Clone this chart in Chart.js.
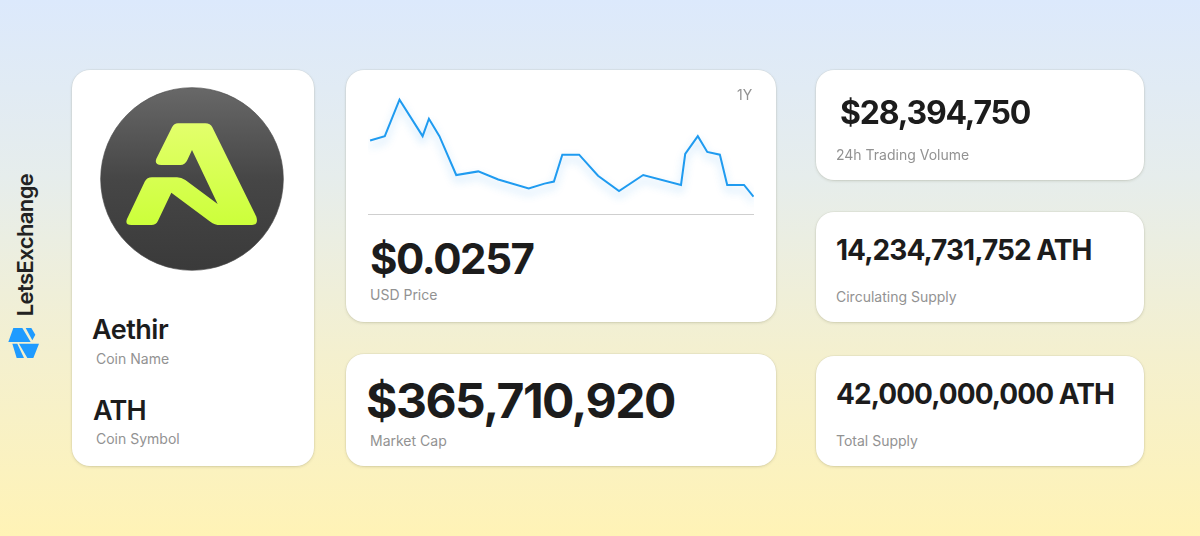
<!DOCTYPE html>
<html><head><meta charset="utf-8">
<script src="https://cdn.jsdelivr.net/npm/chart.js@4"></script>
<style>
html,body{margin:0;padding:0}
body{width:1200px;height:536px;overflow:hidden;position:relative;font-family:Inter,sans-serif;color:#1c1c1c;
background:linear-gradient(180deg,#dce9fc 0%,#e6edec 33%,#f4f0cf 66%,#fff3b6 100%)}
.card{position:absolute;background:#fff;border-radius:18px;box-shadow:0 0 0 .5px rgba(120,120,90,.12),0 1px 3px rgba(90,90,60,.2)}
.t{position:absolute;white-space:nowrap;line-height:1}
.lab{font-size:14px;color:#929292;font-weight:400}
#wrap{position:absolute;left:368px;top:83px;width:386px;height:132px}
</style></head><body>
<div class="card" style="left:72px;top:70px;width:242px;height:396px"></div>
<div class="card" style="left:346px;top:70px;width:430px;height:252px"></div>
<div class="card" style="left:346px;top:354px;width:430px;height:112px"></div>
<div class="card" style="left:816px;top:70px;width:328px;height:110px"></div>
<div class="card" style="left:816px;top:212px;width:328px;height:110px"></div>
<div class="card" style="left:816px;top:356px;width:328px;height:110px"></div>

<svg style="position:absolute;left:72px;top:70px" width="242" height="210" viewBox="0 0 726 630">
<defs>
<linearGradient id="d" x1="0" y1="0" x2="0" y2="1"><stop offset="0" stop-color="#686868"/><stop offset=".5" stop-color="#464646"/><stop offset="1" stop-color="#3a3a3a"/></linearGradient>
<linearGradient id="g" x1="0" y1="0" x2="0" y2="1"><stop offset="0" stop-color="#e3ff6c"/><stop offset="1" stop-color="#ccff3a"/></linearGradient>
</defs>
<circle cx="360" cy="327" r="274" fill="url(#d)" stroke="#4a4a4a" stroke-width="2"/>
<path fill="url(#g)" d="M318 160H400Q415 160 421 172L553 440Q560 465 540 465H445Q428 465 415 455L298 368L258 452Q252 465 238 465H178Q158 465 165 447L218 335Q225 322 240 322H315Q328 322 340 330L437 402L360 240L346 270Q339 285 325 285H268Q246 285 253 266L300 172Q306 160 318 160Z"/>
</svg>

<div class="t" style="left:92px;top:316px;font-size:27px;font-weight:600;letter-spacing:-.5px">Aethir</div>
<div class="t lab" style="left:96px;top:352px">Coin Name</div>
<div class="t" style="left:93px;top:397px;font-size:27px;font-weight:600;letter-spacing:-.8px">ATH</div>
<div class="t lab" style="left:96px;top:432px">Coin Symbol</div>

<div id="wrap"><canvas id="c"></canvas></div>
<div class="t lab" style="left:737px;top:88px">1Y</div>
<div class="t" style="left:370px;top:238px;font-size:42px;font-weight:700;letter-spacing:-1.4px">$0.0257</div>
<div class="t lab" style="left:370px;top:288px">USD Price</div>
<div class="t" style="left:366px;top:377px;font-size:48px;font-weight:700;letter-spacing:-1.5px">$365,710,920</div>
<div class="t lab" style="left:370px;top:434px">Market Cap</div>

<div class="t" style="left:840px;top:97px;font-size:32px;font-weight:700;letter-spacing:-1.2px">$28,394,750</div>
<div class="t lab" style="left:836px;top:148px">24h Trading Volume</div>
<div class="t" style="left:836px;top:236px;font-size:28px;font-weight:700;letter-spacing:-.95px">14,234,731,752 ATH</div>
<div class="t lab" style="left:836px;top:290px">Circulating Supply</div>
<div class="t" style="left:836px;top:380px;font-size:28px;font-weight:700;letter-spacing:-.95px">42,000,000,000 ATH</div>
<div class="t lab" style="left:836px;top:434px">Total Supply</div>

<div class="t" style="left:25px;top:245px;font-size:22px;font-weight:600;letter-spacing:-.6px;transform:translate(-50%,-50%) rotate(-90deg);color:#222">LetsExchange</div>
<svg style="position:absolute;left:4px;top:322px" width="40" height="40" viewBox="0 0 120 120">
<path fill="#1f9bff" d="M13 60L28 18H55L80 60ZM65 18H82L94 38L85 55ZM25 65H40L60 108H38ZM45 65H105L88 108H70Z"/>
</svg>

<script>
const days = [0,14,28,50,56,66,82,103,122,151,166,175,183,199,217,237,260,296,300,312,321,333,340,356,365];
const prices = [0.0506,0.0525,0.0686,0.0525,0.0602,0.0525,0.0353,0.0369,0.0333,0.0293,0.0315,0.0324,0.0443,0.0443,0.0350,0.0282,0.0353,0.0309,0.0446,0.0525,0.0455,0.0443,0.0309,0.0309,0.0257];
const series = days.map((d,i)=>({x:d,y:prices[i]}));
const glow = {id:'glow',
  beforeDatasetDraw(c){c.ctx.save();c.ctx.shadowColor='rgba(33,150,243,.38)';c.ctx.shadowBlur=9;c.ctx.shadowOffsetY=5;},
  afterDatasetDraw(c){c.ctx.restore();}};
new Chart(document.getElementById('c'),{
  type:'line',
  data:{datasets:[{data:series,borderColor:'#1f9bf0',borderWidth:2,pointRadius:0,tension:0,fill:false,clip:false}]},
  options:{responsive:true,maintainAspectRatio:false,animation:false,
    layout:{padding:0},
    plugins:{legend:{display:false},tooltip:{enabled:false}},
    scales:{
      x:{type:'linear',min:-2,max:365.5,display:true,
         grid:{display:false,drawTicks:false},
         border:{display:true,color:'#cfcfcf',width:2},
         ticks:{display:false}},
      y:{min:0.01761,max:0.07601,display:false}
    }},
  plugins:[glow]});
</script>
</body></html>
